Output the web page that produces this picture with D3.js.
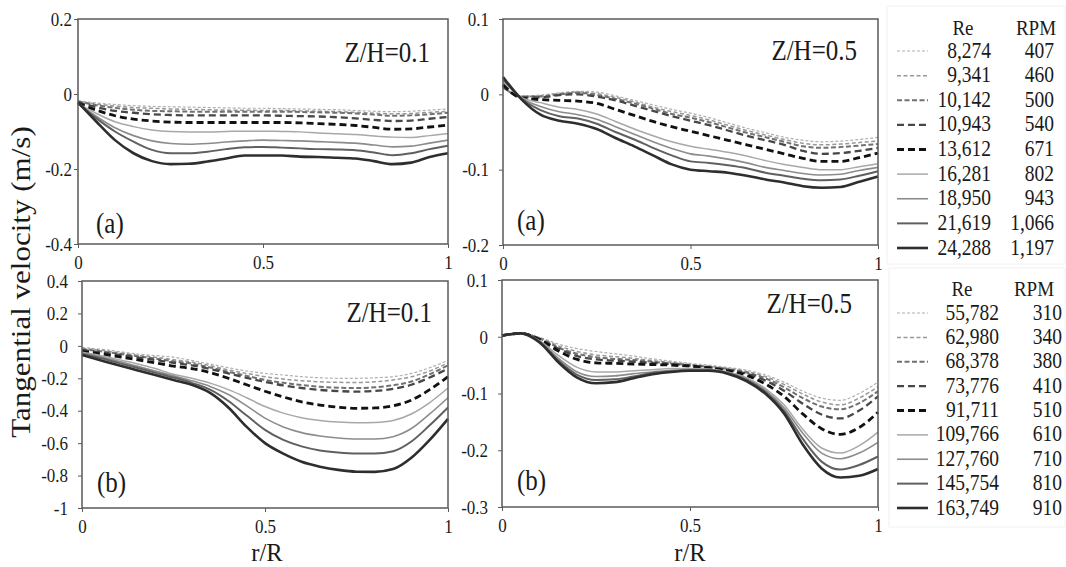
<!DOCTYPE html>
<html>
<head>
<meta charset="utf-8">
<script src="https://cdn.jsdelivr.net/npm/d3@7"></script>
<style>
body { margin: 0; background: #fff; }
svg { display: block; }
svg text { font-family: "Liberation Serif", "Times New Roman", Times, "DejaVu Serif", serif; }
</style>
</head>
<body>
<svg width="1066" height="567"></svg>
<script>
// r/R positions where the curves were read
const rValues = [0, 0.05, 0.1, 0.15, 0.2, 0.25, 0.3, 0.35, 0.4, 0.45, 0.5,
	0.55, 0.6, 0.65, 0.7, 0.75, 0.8, 0.85, 0.9, 0.95, 1];

const reTop = ['8,274', '9,341', '10,142', '10,943', '13,612', '16,281', '18,950', '21,619', '24,288'];
const rpmTop = ['407', '460', '500', '540', '671', '802', '943', '1,066', '1,197'];
const reBottom = ['55,782', '62,980', '68,378', '73,776', '91,711', '109,766', '127,760', '145,754', '163,749'];
const rpmBottom = ['310', '340', '380', '410', '510', '610', '710', '810', '910'];

const xTicks = [0, 0.5, 1];
const yTicksA1 = [0.2, 0, -0.2, -0.4];
const yTicksA5 = [0.1, 0, -0.1, -0.2];
const yTicksB1 = [0.4, 0.2, 0, -0.2, -0.4, -0.6, -0.8, -1];
const yTicksB5 = [0.1, 0, -0.1, -0.2, -0.3];

// (a) Z/H=0.1
const velA1 = [
	[-0.018, -0.024, -0.028, -0.031, -0.033, -0.034, -0.035, -0.036, -0.037, -0.038, -0.038, -0.039, -0.040, -0.041, -0.042, -0.044, -0.046, -0.047, -0.046, -0.043, -0.040],
	[-0.019, -0.027, -0.032, -0.036, -0.038, -0.040, -0.041, -0.042, -0.043, -0.043, -0.044, -0.044, -0.045, -0.046, -0.047, -0.049, -0.051, -0.053, -0.052, -0.049, -0.046],
	[-0.020, -0.030, -0.037, -0.042, -0.045, -0.046, -0.047, -0.047, -0.047, -0.047, -0.047, -0.047, -0.048, -0.049, -0.050, -0.052, -0.055, -0.058, -0.057, -0.054, -0.050],
	[-0.022, -0.035, -0.045, -0.050, -0.054, -0.056, -0.057, -0.057, -0.057, -0.057, -0.057, -0.058, -0.059, -0.060, -0.062, -0.065, -0.069, -0.072, -0.071, -0.066, -0.061],
	[-0.025, -0.043, -0.058, -0.067, -0.072, -0.075, -0.076, -0.076, -0.076, -0.076, -0.076, -0.076, -0.077, -0.079, -0.081, -0.084, -0.089, -0.094, -0.093, -0.088, -0.083],
	[-0.025, -0.052, -0.074, -0.087, -0.096, -0.100, -0.101, -0.101, -0.100, -0.099, -0.099, -0.100, -0.101, -0.104, -0.106, -0.108, -0.112, -0.115, -0.116, -0.111, -0.105],
	[-0.025, -0.060, -0.090, -0.111, -0.125, -0.132, -0.134, -0.132, -0.128, -0.125, -0.123, -0.124, -0.125, -0.127, -0.129, -0.131, -0.136, -0.141, -0.139, -0.131, -0.123],
	[-0.025, -0.065, -0.100, -0.127, -0.149, -0.158, -0.158, -0.154, -0.147, -0.142, -0.141, -0.143, -0.145, -0.147, -0.148, -0.150, -0.156, -0.163, -0.158, -0.147, -0.138],
	[-0.022, -0.074, -0.123, -0.158, -0.179, -0.187, -0.186, -0.180, -0.172, -0.164, -0.164, -0.164, -0.167, -0.168, -0.170, -0.172, -0.179, -0.187, -0.183, -0.168, -0.158]
];

// (a) Z/H=0.5
const velA5 = [
	[0.008, -0.002, -0.001, 0.002, 0.004, 0.003, -0.002, -0.008, -0.014, -0.020, -0.025, -0.031, -0.038, -0.045, -0.051, -0.057, -0.061, -0.063, -0.062, -0.060, -0.057],
	[0.009, -0.003, -0.002, 0.001, 0.003, 0.001, -0.004, -0.010, -0.017, -0.023, -0.028, -0.034, -0.041, -0.048, -0.054, -0.060, -0.065, -0.067, -0.066, -0.064, -0.062],
	[0.010, -0.003, -0.003, 0.000, 0.002, -0.001, -0.006, -0.012, -0.019, -0.026, -0.031, -0.037, -0.044, -0.051, -0.057, -0.063, -0.069, -0.071, -0.070, -0.068, -0.066],
	[0.011, -0.004, -0.004, -0.001, 0.000, -0.003, -0.008, -0.015, -0.022, -0.029, -0.035, -0.041, -0.048, -0.055, -0.061, -0.067, -0.075, -0.079, -0.078, -0.075, -0.071],
	[0.013, -0.005, -0.007, -0.008, -0.009, -0.012, -0.020, -0.028, -0.036, -0.043, -0.049, -0.055, -0.061, -0.067, -0.073, -0.079, -0.085, -0.089, -0.089, -0.084, -0.078],
	[0.017, -0.004, -0.011, -0.017, -0.020, -0.026, -0.036, -0.046, -0.055, -0.063, -0.069, -0.073, -0.077, -0.082, -0.088, -0.093, -0.097, -0.100, -0.100, -0.096, -0.092],
	[0.019, -0.005, -0.016, -0.023, -0.027, -0.033, -0.043, -0.053, -0.063, -0.072, -0.079, -0.082, -0.086, -0.091, -0.097, -0.101, -0.105, -0.107, -0.106, -0.101, -0.097],
	[0.021, -0.006, -0.021, -0.029, -0.032, -0.039, -0.050, -0.060, -0.071, -0.081, -0.089, -0.091, -0.094, -0.098, -0.104, -0.108, -0.112, -0.114, -0.113, -0.108, -0.102],
	[0.023, -0.007, -0.027, -0.035, -0.039, -0.046, -0.058, -0.069, -0.081, -0.093, -0.100, -0.102, -0.104, -0.108, -0.113, -0.117, -0.122, -0.124, -0.123, -0.116, -0.109]
];

// (b) Z/H=0.1
const velB1 = [
	[-0.010, -0.020, -0.035, -0.050, -0.060, -0.070, -0.090, -0.112, -0.135, -0.155, -0.170, -0.180, -0.190, -0.197, -0.200, -0.200, -0.197, -0.190, -0.170, -0.135, -0.090],
	[-0.015, -0.027, -0.042, -0.058, -0.070, -0.085, -0.100, -0.122, -0.148, -0.170, -0.190, -0.205, -0.215, -0.222, -0.225, -0.226, -0.222, -0.210, -0.190, -0.155, -0.105],
	[-0.020, -0.033, -0.048, -0.064, -0.078, -0.095, -0.110, -0.133, -0.160, -0.185, -0.210, -0.228, -0.242, -0.252, -0.258, -0.260, -0.256, -0.243, -0.220, -0.175, -0.120],
	[-0.025, -0.040, -0.055, -0.071, -0.087, -0.105, -0.120, -0.143, -0.170, -0.197, -0.222, -0.244, -0.260, -0.272, -0.279, -0.282, -0.278, -0.265, -0.240, -0.195, -0.140],
	[-0.035, -0.050, -0.067, -0.085, -0.105, -0.125, -0.140, -0.165, -0.200, -0.240, -0.280, -0.315, -0.345, -0.365, -0.378, -0.385, -0.383, -0.370, -0.335, -0.270, -0.190],
	[-0.040, -0.060, -0.085, -0.110, -0.140, -0.175, -0.200, -0.230, -0.270, -0.320, -0.374, -0.415, -0.443, -0.460, -0.470, -0.474, -0.472, -0.460, -0.420, -0.350, -0.260],
	[-0.045, -0.068, -0.095, -0.125, -0.155, -0.185, -0.215, -0.250, -0.300, -0.370, -0.446, -0.500, -0.535, -0.556, -0.568, -0.574, -0.574, -0.560, -0.510, -0.420, -0.320],
	[-0.050, -0.075, -0.105, -0.135, -0.165, -0.195, -0.228, -0.270, -0.340, -0.430, -0.518, -0.580, -0.620, -0.645, -0.658, -0.664, -0.664, -0.650, -0.590, -0.490, -0.380],
	[-0.056, -0.088, -0.120, -0.150, -0.180, -0.210, -0.240, -0.290, -0.380, -0.500, -0.600, -0.665, -0.715, -0.745, -0.765, -0.776, -0.777, -0.760, -0.690, -0.580, -0.450]
];

// (b) Z/H=0.5
const velB5 = [
	[0.002, 0.006, -0.001, -0.013, -0.021, -0.026, -0.030, -0.034, -0.039, -0.043, -0.047, -0.050, -0.054, -0.059, -0.067, -0.080, -0.096, -0.108, -0.112, -0.100, -0.080],
	[0.002, 0.006, -0.002, -0.016, -0.026, -0.032, -0.035, -0.038, -0.042, -0.045, -0.049, -0.052, -0.056, -0.061, -0.070, -0.084, -0.101, -0.115, -0.120, -0.108, -0.088],
	[0.002, 0.006, -0.003, -0.019, -0.030, -0.036, -0.039, -0.041, -0.044, -0.047, -0.050, -0.053, -0.057, -0.063, -0.073, -0.089, -0.108, -0.123, -0.128, -0.117, -0.096],
	[0.002, 0.006, -0.004, -0.021, -0.034, -0.040, -0.042, -0.044, -0.046, -0.048, -0.051, -0.054, -0.058, -0.065, -0.077, -0.095, -0.118, -0.137, -0.144, -0.130, -0.105],
	[0.002, 0.006, -0.005, -0.025, -0.040, -0.046, -0.047, -0.048, -0.049, -0.050, -0.052, -0.055, -0.060, -0.068, -0.083, -0.105, -0.136, -0.162, -0.172, -0.160, -0.133],
	[0.002, 0.006, -0.007, -0.033, -0.054, -0.062, -0.062, -0.060, -0.058, -0.056, -0.056, -0.057, -0.062, -0.072, -0.091, -0.120, -0.163, -0.196, -0.205, -0.192, -0.168],
	[0.002, 0.006, -0.008, -0.038, -0.062, -0.070, -0.069, -0.065, -0.062, -0.059, -0.058, -0.058, -0.063, -0.074, -0.094, -0.125, -0.170, -0.205, -0.215, -0.205, -0.186],
	[0.002, 0.006, -0.009, -0.042, -0.067, -0.076, -0.075, -0.070, -0.064, -0.061, -0.059, -0.059, -0.064, -0.076, -0.097, -0.130, -0.180, -0.220, -0.234, -0.226, -0.211],
	[0.002, 0.006, -0.010, -0.045, -0.072, -0.082, -0.080, -0.073, -0.066, -0.062, -0.060, -0.060, -0.065, -0.078, -0.100, -0.135, -0.190, -0.232, -0.248, -0.245, -0.233]
];

// line look of the nine runs, lowest Re first
const lineStyles = [
	{color: '#b0b0b0', width: 1.2, dash: '3,2'},
	{color: '#989898', width: 1.5, dash: '4,2.5'},
	{color: '#717171', width: 2, dash: '5,2.5'},
	{color: '#474747', width: 2.3, dash: '7,4'},
	{color: '#111111', width: 2.8, dash: '7,4'},
	{color: '#a8a8a8', width: 1.5, dash: null},
	{color: '#8c8c8c', width: 1.6, dash: null},
	{color: '#606060', width: 2, dash: null},
	{color: '#2e2e2e', width: 2.6, dash: null}
];

const serif = '"Liberation Serif", "Times New Roman", Times, "DejaVu Serif", serif';
const svg = d3.select('svg').attr('font-family', serif);
const stretch = 1.15;
const ink = '#1a1a1a';
const fmt = d => String(d);

const addText = (x, y, str, size, anchor, sy = stretch) =>
	svg.append('text')
		.attr('transform', `translate(${x},${y}) scale(1,${sy})`)
		.attr('text-anchor', anchor)
		.attr('font-family', serif)
		.attr('font-size', size)
		.attr('fill', ink)
		.text(str);

const drawPanel = p => {
	const xScale = d3.scaleLinear().domain([0, 1]).range([p.left, p.right]);
	const yScale = d3.scaleLinear().domain(p.domain).range([p.bottom, p.top]);

	const g = svg.append('g');

	const line = d3.line()
		.x((d, i) => xScale(rValues[i]))
		.y(d => yScale(d))
		.curve(d3.curveMonotoneX);

	g.selectAll('path.series')
		.data(p.series)
		.join('path')
			.attr('class', 'series')
			.attr('fill', 'none')
			.attr('stroke', (d, i) => lineStyles[i].color)
			.attr('stroke-width', (d, i) => lineStyles[i].width)
			.attr('stroke-dasharray', (d, i) => lineStyles[i].dash)
			.attr('d', line);

	g.append('rect')
		.attr('x', p.left)
		.attr('y', p.top)
		.attr('width', p.right - p.left)
		.attr('height', p.bottom - p.top)
		.attr('fill', 'none')
		.attr('stroke', '#5a5a5a')
		.attr('stroke-width', 1.5);

	const yAxis = d3.axisLeft(yScale)
		.tickValues(p.yTicks)
		.tickSize(4)
		.tickSizeOuter(0)
		.tickPadding(p.gap)
		.tickFormat(fmt);

	const yAxisG = g.append('g')
		.attr('transform', `translate(${p.left},0)`)
		.call(yAxis)
		.attr('font-family', serif)
		.attr('color', '#5a5a5a');
	yAxisG.select('.domain').remove();

	const xAxis = d3.axisBottom(xScale)
		.tickValues(xTicks)
		.tickSize(4)
		.tickSizeOuter(0)
		.tickPadding(6)
		.tickFormat(fmt);

	const xAxisG = g.append('g')
		.attr('transform', `translate(0,${p.bottom})`)
		.call(xAxis)
		.attr('font-family', serif)
		.attr('color', '#5a5a5a');
	xAxisG.select('.domain').remove();

	g.selectAll('.tick text')
		.attr('font-family', serif)
		.attr('font-size', 17)
		.attr('fill', ink)
		.attr('transform', `scale(1,${stretch})`);

	addText(p.zhX, p.zhY, p.zh, 25, 'end');
	addText(p.tagX, p.tagY, p.tag, 25, 'start');
};

const panels = [
	{left: 78, right: 448, top: 19, bottom: 244, domain: [-0.4, 0.2], yTicks: yTicksA1, gap: 2,
		series: velA1, zh: 'Z/H=0.1', zhX: 430, zhY: 62, tag: '(a)', tagX: 96, tagY: 233},
	{left: 503, right: 878, top: 19, bottom: 245, domain: [-0.2, 0.1], yTicks: yTicksA5, gap: 10,
		series: velA5, zh: 'Z/H=0.5', zhX: 857, zhY: 60, tag: '(a)', tagX: 517, tagY: 230},
	{left: 82, right: 448, top: 281, bottom: 508, domain: [-1, 0.4], yTicks: yTicksB1, gap: 10,
		series: velB1, zh: 'Z/H=0.1', zhX: 432, zhY: 322, tag: '(b)', tagX: 97, tagY: 492},
	{left: 502, right: 878, top: 280, bottom: 507, domain: [-0.3, 0.1], yTicks: yTicksB5, gap: 10,
		series: velB5, zh: 'Z/H=0.5', zhX: 852, zhY: 313, tag: '(b)', tagX: 517, tagY: 490}
];

panels.forEach(drawPanel);

// axis titles
svg.append('text')
	.attr('transform', `translate(30,282) rotate(-90) scale(${stretch},1)`)
	.attr('text-anchor', 'middle')
	.attr('font-family', serif)
	.attr('font-size', 27)
	.attr('fill', ink)
	.text('Tangential velocity (m/s)');

addText(267, 561, 'r/R', 24.5, 'middle', 1.05);
addText(690, 561, 'r/R', 24.5, 'middle', 1.05);

// legends
const drawLegend = (reList, rpmList, L) => {
	svg.append('rect')
		.attr('x', L.boxX)
		.attr('y', L.boxY)
		.attr('width', L.boxW)
		.attr('height', L.boxH)
		.attr('fill', 'none')
		.attr('stroke', '#f2f2f2');

	addText(L.reHeadX, L.headY + 6, 'Re', 19, 'middle');
	addText(L.rpmHeadX, L.headY + 6, 'RPM', 19, 'middle');

	const rowY = d3.scalePoint()
		.domain(d3.range(reList.length))
		.range([L.firstY, L.lastY]);

	reList.forEach((re, i) => {
		const y = rowY(i);
		const s = lineStyles[i];
		svg.append('line')
			.attr('x1', 897)
			.attr('x2', 928)
			.attr('y1', y)
			.attr('y2', y)
			.attr('stroke', s.color)
			.attr('stroke-width', s.width)
			.attr('stroke-dasharray', s.dash);
		addText(L.reRight, y + 6.5, re, 19.5, 'end');
		addText(L.rpmRight, y + 6.5, rpmList[i], 19.5, 'end');
	});
};

drawLegend(reTop, rpmTop, {boxX: 887, boxY: 6, boxW: 178, boxH: 258,
	headY: 29, firstY: 51, lastY: 248, reHeadX: 963, rpmHeadX: 1036, reRight: 991, rpmRight: 1054});
drawLegend(reBottom, rpmBottom, {boxX: 889, boxY: 268, boxW: 176, boxH: 259,
	headY: 290, firstY: 313, lastY: 508, reHeadX: 962, rpmHeadX: 1034, reRight: 999, rpmRight: 1062});
</script>
</body>
</html>
